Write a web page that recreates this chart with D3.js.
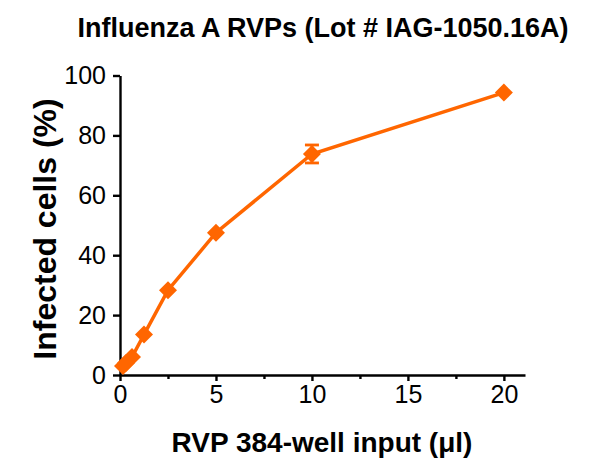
<!DOCTYPE html>
<html>
<head>
<meta charset="utf-8">
<script src="https://cdn.jsdelivr.net/npm/d3@7"></script>
<style>
body { margin: 0; background: #fff; }
text { font-family: "Liberation Sans", Arial, sans-serif; }
</style>
</head>
<body>
<script>
// data
var volumes = [0.156, 0.3125, 0.625, 1.25, 2.5, 5, 10, 20],
	infected = [3, 4, 6, 13.5, 28.3, 47.5, 73.8, 94.3],
	errors = [0, 0, 0, 0, 0, 0, 3, 0];

var xTicks = [0, 5, 10, 15, 20],
	xMinor = [2.5, 7.5, 12.5, 17.5],
	yTicks = [0, 20, 40, 60, 80, 100];

var color = '#ff6600';

var svg = d3.select('body').append('svg')
	.attr('width', 590)
	.attr('height', 471);

var x = d3.scaleLinear().domain([0, 21.1]).range([120, 525]);
var y = d3.scaleLinear().domain([0, 100]).range([375, 75.5]);

// axes
svg.append('g')
	.attr('transform', 'translate(0,375)')
	.call(d3.axisBottom(x).tickValues(xTicks).tickSize(6).tickSizeOuter(0).tickPadding(4));

svg.append('g')
	.attr('transform', 'translate(0,375)')
	.call(d3.axisBottom(x).tickValues(xMinor).tickSize(4).tickFormat('').tickSizeOuter(0))
	.select('.domain').remove();

svg.append('g')
	.attr('transform', 'translate(120,0)')
	.call(d3.axisLeft(y).tickValues(yTicks).tickSize(7).tickSizeOuter(0).tickPadding(7));

svg.selectAll('.domain, .tick line')
	.attr('stroke', '#000')
	.attr('stroke-width', 2.4);
svg.selectAll('.tick text')
	.attr('fill', '#000')
	.style('font-size', '25px')
	.style('font-family', '"Liberation Sans", Arial, sans-serif');

// line
var line = d3.line()
	.x(function(d, i) { return x(volumes[i]); })
	.y(function(d) { return y(d); });

svg.append('path')
	.datum(infected)
	.attr('fill', 'none')
	.attr('stroke', color)
	.attr('stroke-width', 3.5)
	.attr('d', line);

// error bars
var eb = svg.append('g').attr('stroke', color).attr('stroke-width', 2.8);
infected.forEach(function(v, i) {
	if (!errors[i]) return;
	var cx = x(volumes[i]);
	eb.append('line').attr('x1', cx).attr('x2', cx).attr('y1', y(v + errors[i])).attr('y2', y(v - errors[i]));
	eb.append('line').attr('x1', cx - 7).attr('x2', cx + 7).attr('y1', y(v + errors[i])).attr('y2', y(v + errors[i]));
	eb.append('line').attr('x1', cx - 7).attr('x2', cx + 7).attr('y1', y(v - errors[i])).attr('y2', y(v - errors[i]));
});

// diamond markers
svg.append('g').selectAll('path')
	.data(infected)
	.enter().append('path')
		.attr('transform', function(d, i) { return 'translate(' + x(volumes[i]) + ',' + y(d) + ')'; })
		.attr('d', 'M0,-9L9,0L0,9L-9,0Z')
		.attr('fill', color);

// labels
svg.append('text')
	.attr('x', 323).attr('y', 37)
	.attr('text-anchor', 'middle')
	.style('font-size', '27px').style('font-weight', 'bold')
	.text('Influenza A RVPs (Lot # IAG-1050.16A)');

svg.append('text')
	.attr('x', 322).attr('y', 452)
	.attr('text-anchor', 'middle')
	.style('font-size', '28px').style('font-weight', 'bold')
	.text('RVP 384-well input (μl)');

svg.append('text')
	.attr('transform', 'translate(56,229) rotate(-90)')
	.attr('text-anchor', 'middle')
	.style('font-size', '32px').style('font-weight', 'bold')
	.text('Infected cells (%)');
</script>
</body>
</html>
